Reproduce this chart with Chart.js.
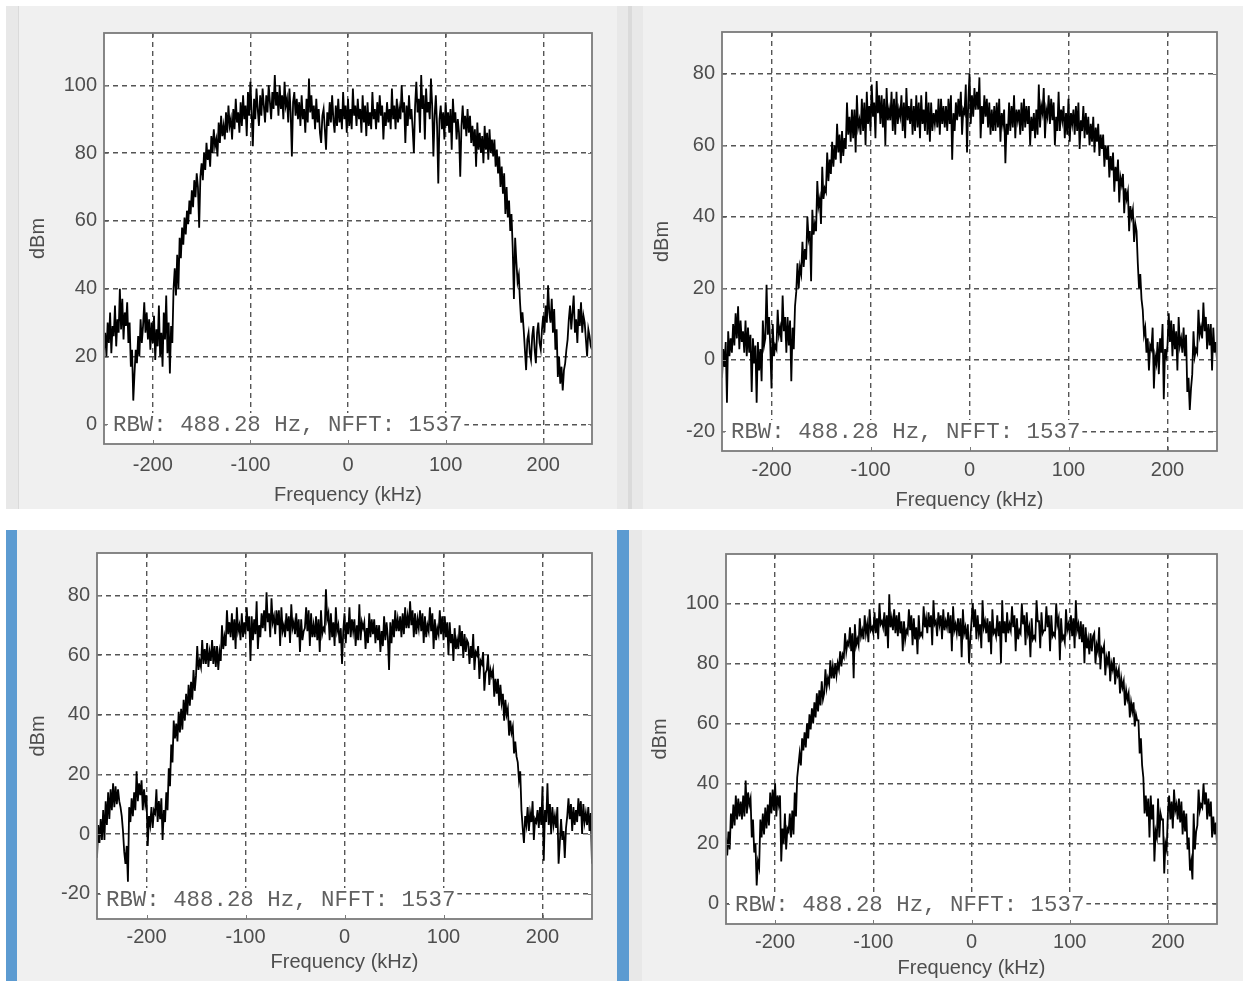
<!DOCTYPE html>
<html>
<head>
<meta charset="utf-8">
<script src="https://cdn.jsdelivr.net/npm/chart.js@4.4.1/dist/chart.umd.min.js"></script>
<style>
  body { margin: 0; width: 1243px; height: 981px; background: #fff; position: relative; overflow: hidden; }
  .strip { position: absolute; }
  .panel { position: absolute; background: #f0f0f0; overflow: hidden; }
  .panel canvas { position: absolute; left: 0; top: 0; }
</style>
</head>
<body>
<div class="strip" style="left:6px;top:6px;width:12px;height:503px;background:#e8e8e8;border-right:1px solid #dadada"></div>
<div class="strip" style="left:617px;top:6px;width:26px;height:503px;background:#e8e8e8"></div>
<div class="strip" style="left:628px;top:6px;width:4px;height:503px;background:#dadada"></div>
<div class="strip" style="left:6px;top:530px;width:11px;height:451px;background:#5c9bd1"></div>
<div class="strip" style="left:617px;top:530px;width:12px;height:451px;background:#5c9bd1"></div>
<div class="strip" style="left:629px;top:530px;width:13px;height:451px;background:#e8e8e8"></div>

<div class="panel" style="left:19px;top:6px;width:598px;height:503px"><canvas id="c1"></canvas></div>
<div class="panel" style="left:643px;top:6px;width:600px;height:503px"><canvas id="c2"></canvas></div>
<div class="panel" style="left:17px;top:530px;width:600px;height:451px"><canvas id="c3"></canvas></div>
<div class="panel" style="left:642px;top:530px;width:601px;height:451px"><canvas id="c4"></canvas></div>

<script>
// frequency bins in kHz, one every 1.25 kHz from -250 to 250
var freqKHz = [];
for (let i = 0; i <= 400; i++) {
    freqKHz.push(-250 + i * 1.25);
}

var xTicks = [-200, -100, 0, 100, 200];
var p1Ticks = [0, 20, 40, 60, 80, 100];
var p2Ticks = [-20, 0, 20, 40, 60, 80];
var p3Ticks = [-20, 0, 20, 40, 60, 80];
var p4Ticks = [0, 20, 40, 60, 80, 100];

var p1Range = [-5.8, 115.4];
var p2Range = [-25.5, 91.7];
var p3Range = [-28.5, 94.2];
var p4Range = [-6.8, 116.4];

var noteText = 'RBW: 488.28 Hz, NFFT: 1537';

// spectrum values (dBm), 20 bins (25 kHz) per row
var p1dBm = [
    22, 27, 20, 30, 24, 33, 21, 29, 26, 35, 23, 31, 27, 40, 28, 37, 25, 33, 29, 36,
    24, 30, 17, 22, 7, 15, 22, 18, 26, 20, 31, 24, 29, 36, 27, 33, 25, 31, 22, 30,
    24, 32, 19, 28, 23, 35, 20, 27, 17, 33, 25, 38, 21, 30, 15, 29, 24, 40, 46, 38,
    50, 40, 55, 49, 58, 53, 61, 56, 63, 59, 66, 62, 69, 64, 72, 67, 74, 70, 58, 73,
    77, 72, 80, 75, 83, 78, 81, 76, 85, 80, 87, 82, 84, 79, 89, 83, 91, 85, 88, 84,
    92, 86, 94, 88, 90, 84, 93, 87, 96, 89, 92, 86, 95, 88, 97, 90, 94, 85, 98, 91,
    101, 92, 82, 96, 90, 99, 93, 88, 97, 91, 99, 94, 89, 97, 92, 100, 95, 90, 98, 93,
    103, 94, 98, 91, 100, 93, 97, 90, 101, 94, 96, 89, 99, 92, 79, 95, 98, 91, 96, 90,
    95, 88, 97, 90, 93, 86, 96, 89, 102, 92, 97, 90, 94, 87, 96, 89, 93, 86, 83, 91,
    93, 87, 81, 92, 88, 95, 89, 97, 90, 86, 94, 88, 96, 89, 93, 87, 98, 90, 94, 86,
    96, 88, 93, 87, 99, 91, 94, 88, 96, 90, 93, 86, 97, 89, 94, 85, 95, 88, 92, 87,
    98, 90, 93, 87, 95, 89, 97, 91, 94, 84, 92, 88, 95, 89, 93, 87, 99, 90, 94, 87,
    96, 89, 93, 90, 100, 92, 95, 83, 94, 88, 97, 90, 93, 87, 80, 94, 101, 92, 96, 86,
    103, 93, 97, 84, 99, 92, 95, 90, 102, 94, 79, 91, 97, 88, 71, 90, 94, 87, 92, 84,
    95, 88, 92, 86, 93, 81, 96, 89, 92, 84, 90, 86, 73, 88, 94, 87, 91, 85, 93, 86,
    91, 83, 88, 82, 87, 76, 89, 81, 86, 80, 85, 77, 88, 81, 86, 78, 87, 80, 84, 79,
    84, 76, 81, 74, 79, 70, 76, 68, 74, 62, 70, 61, 66, 57, 62, 52, 37, 55, 48, 42,
    44, 36, 30, 33, 28, 22, 16, 25, 27, 21, 19, 26, 29, 22, 18, 27, 30, 24, 22, 28,
    32, 27, 35, 30, 41, 33, 30, 37, 27, 34, 22, 28, 14, 20, 12, 17, 10, 16, 18, 22,
    25, 31, 35, 28, 33, 38, 27, 31, 24, 34, 29, 36, 27, 32, 30, 25, 20, 28, 26, 23,
    22
];

var p2dBm = [
    -5, 3, -2, 5, -12, 8, 1, 6, 2, 10, 4, 13, 6, 15, 3, 11, 5, 8, 2, 11,
    1, 9, 2, 7, -9, 6, -1, 4, -12, 5, -3, 3, -6, 11, 4, 6, 21, 7, 12, 4,
    -8, 10, 1, 4, 3, 14, 7, 9, 5, 18, 8, 12, 2, 12, 4, 11, -6, 9, 3, 15,
    19, 27, 20, 26, 24, 33, 26, 31, 28, 40, 34, 36, 22, 42, 35, 38, 36, 50, 43, 45,
    38, 54, 45, 48, 47, 58, 50, 56, 52, 61, 54, 60, 56, 66, 58, 63, 55, 64, 57, 62,
    59, 72, 63, 68, 61, 70, 62, 70, 58, 74, 65, 67, 63, 73, 64, 72, 60, 75, 66, 71,
    64, 77, 68, 72, 62, 78, 69, 74, 66, 74, 65, 73, 60, 76, 67, 70, 67, 75, 64, 73,
    63, 75, 66, 70, 68, 74, 64, 72, 62, 76, 67, 71, 66, 73, 63, 71, 64, 74, 65, 72,
    62, 74, 66, 70, 64, 75, 63, 72, 61, 72, 64, 69, 66, 70, 65, 73, 63, 73, 66, 71,
    65, 71, 64, 73, 66, 74, 56, 69, 64, 72, 67, 73, 68, 75, 63, 70, 69, 77, 58, 72,
    80, 66, 74, 68, 76, 70, 75, 70, 79, 62, 71, 66, 74, 68, 73, 65, 72, 63, 70, 64,
    71, 64, 72, 65, 73, 61, 69, 66, 70, 55, 66, 63, 72, 64, 71, 65, 74, 62, 70, 67,
    70, 63, 72, 64, 73, 65, 71, 66, 71, 60, 68, 64, 69, 62, 70, 63, 77, 65, 71, 69,
    76, 62, 70, 68, 74, 66, 73, 67, 72, 60, 68, 64, 75, 64, 70, 67, 71, 62, 69, 63,
    73, 61, 69, 66, 70, 63, 71, 64, 72, 59, 67, 64, 71, 62, 69, 63, 68, 60, 66, 61,
    68, 58, 65, 61, 66, 57, 63, 59, 63, 54, 60, 56, 60, 51, 57, 53, 58, 47, 54, 50,
    56, 44, 51, 49, 52, 41, 48, 45, 47, 36, 43, 40, 42, 33, 38, 36, 27, 20, 24, 17,
    14, 7, 9, 2, 6, -3, 4, 3, 9, -8, 1, -1, 5, -4, 6, 2, 10, -11, 3, 1,
    4, 13, 5, 11, 1, 10, 3, 8, -3, 12, 4, 6, 2, 9, 1, 7, -9, -5, -14, -8,
    -4, 8, 1, 3, 2, 14, 7, 9, 6, 16, 8, 12, 3, 10, 4, 10, -3, 9, 2, 5,
    0
];

var p3dBm = [
    -8, 3, -3, 5, -2, 8, -2, 11, 3, 14, 5, 15, 8, 17, 9, 16, 10, 15, 11, 9,
    6, 1, -6, -10, -4, -16, 9, 4, 12, 6, 14, 8, 21, 11, 17, 13, 18, 8, 15, 10,
    13, -4, 6, 3, 9, 2, 8, 7, 15, 4, 11, 5, 12, -2, 8, 4, 14, 8, 22, 16,
    30, 24, 38, 32, 37, 31, 41, 34, 42, 35, 45, 38, 47, 40, 50, 43, 51, 45, 55, 48,
    53, 63, 55, 58, 56, 65, 57, 62, 57, 64, 56, 61, 58, 65, 57, 63, 56, 63, 55, 61,
    58, 70, 62, 66, 63, 75, 67, 71, 66, 74, 65, 72, 62, 76, 68, 70, 65, 74, 66, 71,
    67, 76, 68, 73, 58, 73, 65, 72, 67, 78, 62, 70, 66, 74, 69, 75, 68, 81, 71, 74,
    66, 79, 71, 73, 67, 75, 70, 75, 63, 76, 68, 70, 66, 74, 68, 73, 64, 77, 69, 71,
    67, 74, 66, 72, 61, 72, 65, 68, 69, 76, 68, 75, 63, 74, 66, 70, 66, 73, 65, 72,
    61, 75, 67, 69, 68, 82, 72, 74, 65, 74, 66, 71, 63, 76, 68, 70, 64, 69, 57, 68,
    74, 64, 71, 67, 76, 66, 72, 68, 72, 63, 70, 65, 77, 65, 71, 69, 71, 62, 69, 64,
    74, 66, 72, 67, 72, 64, 70, 65, 70, 61, 68, 63, 73, 65, 71, 66, 55, 71, 64, 72,
    66, 75, 68, 72, 68, 73, 66, 74, 67, 76, 69, 73, 69, 78, 70, 75, 66, 74, 67, 72,
    69, 75, 68, 74, 64, 73, 66, 70, 68, 76, 68, 74, 62, 72, 65, 69, 67, 75, 67, 73,
    65, 73, 66, 71, 60, 71, 64, 67, 58, 69, 62, 65, 62, 70, 63, 68, 59, 67, 61, 65,
    64, 57, 63, 59, 67, 55, 61, 60, 63, 52, 58, 57, 61, 48, 54, 55, 60, 50, 55, 53,
    55, 46, 52, 47, 52, 43, 50, 44, 47, 38, 45, 40, 42, 33, 38, 34, 36, 27, 31, 26,
    24, 18, 21, 8, 2, -3, 6, 3, 9, 1, 7, 4, 11, -2, 5, 4, 8, 2, 9, 3,
    16, -9, 8, 4, 17, 3, 10, 0, 9, 3, 6, 2, 9, -10, -3, 5, -2, 1, -8, 2,
    6, 12, 5, 10, 1, 9, 3, 8, 4, 12, 6, 11, 0, 10, 4, 7, 3, 9, 1, 7,
    -10
];

var p4dBm = [
    22, 16, 24, 18, 30, 25, 33, 26, 36, 28, 35, 29, 34, 28, 36, 29, 41, 30, 37, 33,
    35, 22, 28, 17, 20, 6, 14, 12, 28, 22, 30, 23, 32, 25, 33, 26, 37, 30, 38, 31,
    40, 29, 36, 33, 36, 14, 25, 20, 30, 18, 25, 24, 30, 22, 31, 23, 37, 29, 42, 46,
    50, 46, 55, 51, 57, 52, 60, 55, 63, 58, 65, 60, 67, 62, 70, 64, 71, 66, 74, 68,
    70, 78, 72, 75, 73, 81, 75, 79, 75, 80, 76, 80, 78, 84, 79, 83, 82, 90, 84, 87,
    86, 92, 84, 90, 75, 93, 86, 88, 86, 95, 89, 91, 88, 96, 90, 93, 87, 98, 91, 92,
    90, 97, 90, 95, 88, 100, 93, 94, 92, 97, 89, 96, 85, 103, 92, 95, 91, 98, 90, 96,
    89, 97, 90, 94, 84, 94, 88, 91, 90, 98, 91, 96, 86, 95, 88, 92, 83, 96, 89, 90,
    89, 99, 92, 95, 90, 97, 92, 96, 86, 101, 93, 94, 89, 97, 93, 96, 88, 98, 91, 94,
    92, 97, 90, 96, 84, 99, 91, 93, 90, 95, 89, 95, 82, 98, 90, 92, 88, 93, 80, 88,
    94, 100, 92, 98, 88, 96, 90, 93, 85, 101, 92, 94, 90, 95, 87, 94, 83, 98, 90, 91,
    89, 96, 89, 94, 80, 101, 90, 94, 87, 97, 90, 93, 91, 99, 92, 96, 84, 95, 88, 91,
    90, 100, 93, 96, 86, 97, 90, 92, 82, 95, 88, 89, 88, 101, 94, 94, 85, 97, 90, 91,
    91, 99, 92, 96, 84, 96, 89, 90, 89, 100, 93, 95, 81, 95, 88, 89, 87, 98, 91, 93,
    90, 96, 89, 95, 85, 101, 91, 93, 88, 94, 87, 93, 80, 92, 85, 88, 83, 90, 84, 89,
    90, 80, 86, 84, 92, 78, 85, 84, 86, 76, 82, 80, 84, 74, 80, 78, 82, 73, 78, 76,
    78, 70, 75, 72, 74, 66, 71, 68, 70, 62, 67, 64, 67, 59, 63, 61, 61, 50, 55, 46,
    42, 30, 36, 29, 35, 22, 36, 28, 33, 14, 24, 22, 35, 22, 30, 28, 28, 10, 20, 18,
    30, 36, 28, 34, 25, 38, 31, 33, 28, 35, 27, 34, 23, 31, 24, 30, 18, 22, 11, 14,
    8, 30, 18, 24, 26, 38, 31, 33, 32, 40, 33, 37, 28, 35, 29, 34, 22, 29, 23, 27,
    20
];

// where each panel and its plot box sit on the page
var panelLayout = [
    { canvas: 'c1', left: 19, top: 6, width: 598, plot: [104, 33, 592, 444], xTitleY: 495, yTitleX: 38, xTickY: 465 },
    { canvas: 'c2', left: 643, top: 6, width: 600, plot: [722, 32, 1217, 451], xTitleY: 500, yTitleX: 662, xTickY: 470 },
    { canvas: 'c3', left: 17, top: 530, width: 600, plot: [97, 553, 592, 919], xTitleY: 962, yTitleX: 38, xTickY: 937 },
    { canvas: 'c4', left: 642, top: 530, width: 601, plot: [726, 554, 1217, 924], xTitleY: 968, yTitleX: 660, xTickY: 942 }
];

var textColor = '#4d4d4d';
var labelFont = { family: '"Liberation Sans", Arial, sans-serif', size: 20 };

// white plot area, the RBW note, the frame and the small inward ticks
var plotFrame = {
    id: 'plotFrame',
    beforeDraw(chart) {
        let a = chart.chartArea;
        let ctx = chart.ctx;
        ctx.save();
        ctx.fillStyle = '#ffffff';
        ctx.fillRect(a.left, a.top, a.right - a.left, a.bottom - a.top);
        ctx.restore();
    },
    afterDatasetsDraw(chart) {
        let a = chart.chartArea;
        let ctx = chart.ctx;
        ctx.save();
        ctx.font = '22.4px "Liberation Mono", monospace';
        let w = ctx.measureText(noteText).width;
        let ty = a.bottom - 20;
        ctx.fillStyle = '#ffffff';
        ctx.fillRect(a.left + 3, ty - 11, w + 8, a.bottom - ty + 11);
        ctx.fillStyle = '#616161';
        ctx.textBaseline = 'middle';
        ctx.fillText(noteText, a.left + 9, ty + 1);

        ctx.strokeStyle = '#7a7a7a';
        ctx.lineWidth = 1.8;
        ctx.strokeRect(a.left, a.top, a.right - a.left, a.bottom - a.top);

        ctx.lineWidth = 1;
        ctx.beginPath();
        let xs = chart.scales.x;
        let ys = chart.scales.y;
        xs.ticks.forEach(t => {
            let px = Math.round(xs.getPixelForValue(t.value)) + 0.5;
            ctx.moveTo(px, a.bottom); ctx.lineTo(px, a.bottom - 4);
            ctx.moveTo(px, a.top); ctx.lineTo(px, a.top + 4);
        });
        ys.ticks.forEach(t => {
            let py = Math.round(ys.getPixelForValue(t.value)) + 0.5;
            ctx.moveTo(a.left, py); ctx.lineTo(a.left + 4, py);
            ctx.moveTo(a.right, py); ctx.lineTo(a.right - 4, py);
        });
        ctx.stroke();
        ctx.restore();
    }
};

function makeChart(lay, values, yTicks, yRange) {
    let canvas = document.getElementById(lay.canvas);
    let plotLeft = lay.plot[0], plotTop = lay.plot[1], plotRight = lay.plot[2], plotBottom = lay.plot[3];
    let xHeight = lay.xTitleY - plotBottom + 12;
    canvas.width = lay.width;
    canvas.height = plotBottom - lay.top + xHeight;

    let points = [];
    for (let i = 0; i < freqKHz.length; i++) {
        points.push({ x: freqKHz[i], y: values[i] });
    }

    let gridOpts = { color: '#555555', lineWidth: 1.4, drawTicks: false };
    let borderOpts = { display: false, dash: [5, 4] };

    return new Chart(canvas, {
        type: 'line',
        data: {
            datasets: [{
                data: points,
                borderColor: '#000000',
                borderWidth: 1.8,
                pointRadius: 0,
                tension: 0,
                fill: false
            }]
        },
        options: {
            responsive: false,
            animation: false,
            devicePixelRatio: 1,
            layout: {
                padding: { left: 0, bottom: 0, top: plotTop - lay.top, right: lay.left + lay.width - plotRight }
            },
            plugins: { legend: { display: false }, tooltip: { enabled: false } },
            scales: {
                x: {
                    type: 'linear',
                    min: -250,
                    max: 250,
                    afterFit: s => { s.height = xHeight; },
                    afterBuildTicks: s => { s.ticks = xTicks.map(v => ({ value: v })); },
                    ticks: {
                        padding: lay.xTickY - plotBottom - 12,
                        color: textColor, font: labelFont,
                        maxRotation: 0, autoSkip: false,
                        callback: v => String(v)
                    },
                    grid: gridOpts,
                    border: borderOpts,
                    title: { display: true, text: 'Frequency (kHz)', color: textColor, font: labelFont, padding: 0 }
                },
                y: {
                    type: 'linear',
                    min: yRange[0],
                    max: yRange[1],
                    afterFit: s => { s.width = plotLeft - lay.left; },
                    afterBuildTicks: s => { s.ticks = yTicks.map(v => ({ value: v })); },
                    ticks: {
                        padding: 7,
                        color: textColor, font: labelFont,
                        autoSkip: false,
                        callback: v => String(v)
                    },
                    grid: gridOpts,
                    border: borderOpts,
                    title: { display: true, text: 'dBm', color: textColor, font: labelFont, padding: { top: lay.yTitleX - lay.left - 12, bottom: 0 } }
                }
            }
        },
        plugins: [plotFrame]
    });
}

makeChart(panelLayout[0], p1dBm, p1Ticks, p1Range);
makeChart(panelLayout[1], p2dBm, p2Ticks, p2Range);
makeChart(panelLayout[2], p3dBm, p3Ticks, p3Range);
makeChart(panelLayout[3], p4dBm, p4Ticks, p4Range);
</script>
</body>
</html>
